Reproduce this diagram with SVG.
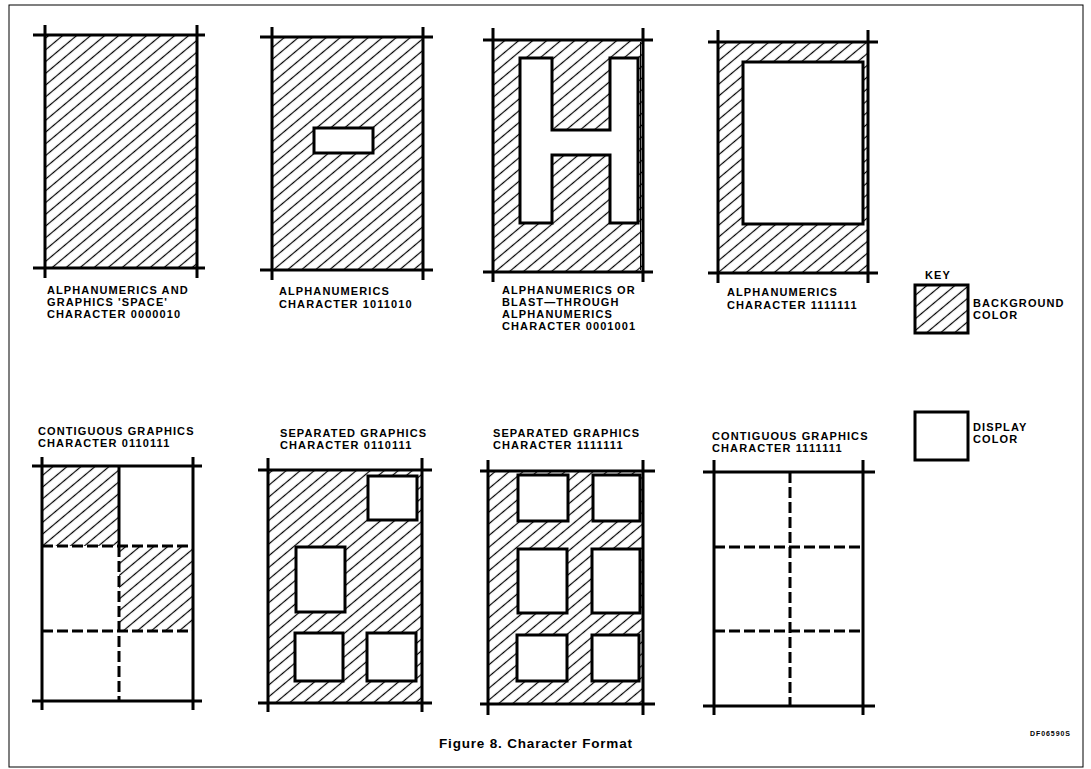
<svg xmlns="http://www.w3.org/2000/svg" width="1091" height="769" viewBox="0 0 1091 769">
<style>
.bg{fill:#fff}
.frame{fill:none;stroke:#000;stroke-width:1}
.ln{stroke:#000;stroke-width:3;fill:none;stroke-linecap:butt}
.dash{stroke:#000;stroke-width:3;fill:none;stroke-dasharray:11 4}
.hatch{fill:url(#hatch)}
.disp{fill:#fff;stroke:#000;stroke-width:3}
.lbl{font-family:"Liberation Sans",Arial,Helvetica,sans-serif;font-weight:bold;font-size:11px;letter-spacing:1.1px;fill:#000}
.cap{font-family:"Liberation Sans",Arial,Helvetica,sans-serif;font-weight:bold;font-size:13.5px;fill:#000}
.tiny{font-family:"Liberation Sans",Arial,Helvetica,sans-serif;font-weight:bold;font-size:7px;fill:#000}
</style>
<defs>
<pattern id="hatch" patternUnits="userSpaceOnUse" width="9" height="9" patternTransform="rotate(-40)">
<line x1="0" y1="4.5" x2="9" y2="4.5" stroke="#000" stroke-width="1.2"/>
</pattern>
</defs>
<rect class="bg" x="0" y="0" width="1091" height="769"/>
<rect class="frame" x="9" y="5" width="1074" height="762"/>

<g id="cell-space">
<rect class="hatch" x="45" y="35" width="152" height="233"/>
<path class="ln" d="M45 25V278M197 25V278M33 35H205M33 268H205"/>
<text class="lbl" x="47" y="294">ALPHANUMERICS AND</text>
<text class="lbl" x="47" y="306">GRAPHICS 'SPACE'</text>
<text class="lbl" x="47" y="318">CHARACTER 0000010</text>
</g>

<g id="cell-1011010">
<rect class="hatch" x="272" y="37" width="151" height="233"/>
<rect class="disp" x="314" y="128" width="59" height="25"/>
<path class="ln" d="M272 27V280M423 27V280M260 37H433M260 270H433"/>
<text class="lbl" x="279" y="295">ALPHANUMERICS</text>
<text class="lbl" x="279" y="308">CHARACTER 1011010</text>
</g>

<g id="cell-0001001">
<rect class="hatch" x="493" y="40" width="150" height="232"/>
<path class="disp" d="M520 58H552V130H610V58H638V223H610V155H552V223H520Z"/>
<line x1="640.5" y1="42" x2="640.5" y2="270" stroke="#000" stroke-width="1"/>
<path class="ln" d="M493 28V282M643 28V282M483 40H653M483 272H653"/>
<text class="lbl" x="502" y="294">ALPHANUMERICS OR</text>
<text class="lbl" x="502" y="306">BLAST—THROUGH</text>
<text class="lbl" x="502" y="318">ALPHANUMERICS</text>
<text class="lbl" x="502" y="330">CHARACTER 0001001</text>
</g>

<g id="cell-1111111-alpha">
<rect class="hatch" x="718" y="42" width="150" height="231"/>
<rect class="disp" x="743" y="62" width="120" height="162"/>
<path class="ln" d="M718 30V283M868 30V283M708 42H878M708 273H878"/>
<text class="lbl" x="727" y="296">ALPHANUMERICS</text>
<text class="lbl" x="727" y="309">CHARACTER 1111111</text>
</g>

<g id="key">
<text class="lbl" x="938" y="279" text-anchor="middle" letter-spacing="1">KEY</text>
<rect class="hatch" x="915" y="285" width="53" height="48"/>
<rect x="915" y="285" width="53" height="48" fill="none" stroke="#000" stroke-width="3"/>
<text class="lbl" x="973" y="307">BACKGROUND</text>
<text class="lbl" x="973" y="319">COLOR</text>
<rect class="disp" x="915" y="412" width="53" height="48"/>
<text class="lbl" x="973" y="431">DISPLAY</text>
<text class="lbl" x="973" y="443">COLOR</text>
</g>

<g id="cell-contig-0110111">
<text class="lbl" x="38" y="435">CONTIGUOUS GRAPHICS</text>
<text class="lbl" x="38" y="447">CHARACTER 0110111</text>
<rect class="hatch" x="42" y="466" width="77" height="80"/>
<rect class="hatch" x="119" y="546" width="74" height="85"/>
<path class="ln" d="M119 466V546"/>
<path class="dash" d="M119 546V701M42 546H193M42 631H193"/>
<path class="ln" d="M42 457V710M193 457V710M32 466H202M32 701H202"/>
</g>

<g id="cell-sep-0110111">
<text class="lbl" x="280" y="437">SEPARATED GRAPHICS</text>
<text class="lbl" x="280" y="449">CHARACTER 0110111</text>
<rect class="hatch" x="268" y="470" width="154" height="233"/>
<rect class="disp" x="368" y="476" width="49" height="44"/>
<rect class="disp" x="296" y="547" width="49" height="65"/>
<rect class="disp" x="295" y="633" width="48" height="48"/>
<rect class="disp" x="367" y="633" width="49" height="48"/>
<path class="ln" d="M268 458V712M422 458V712M258 470H432M258 703H432"/>
</g>

<g id="cell-sep-1111111">
<text class="lbl" x="493" y="437">SEPARATED GRAPHICS</text>
<text class="lbl" x="493" y="449">CHARACTER 1111111</text>
<rect class="hatch" x="488" y="471" width="155" height="233"/>
<rect class="disp" x="518" y="475" width="50" height="46"/>
<rect class="disp" x="593" y="475" width="47" height="46"/>
<rect class="disp" x="518" y="549" width="49" height="64"/>
<rect class="disp" x="592" y="549" width="48" height="64"/>
<rect class="disp" x="517" y="635" width="50" height="46"/>
<rect class="disp" x="592" y="635" width="47" height="46"/>
<path class="ln" d="M488 460V715M643 460V715M480 471H655M480 704H655"/>
</g>

<g id="cell-contig-1111111">
<text class="lbl" x="712" y="440">CONTIGUOUS GRAPHICS</text>
<text class="lbl" x="712" y="452">CHARACTER 1111111</text>
<path class="dash" d="M790 472V706M714 547H863M714 631H863"/>
<path class="ln" d="M714 460V715M863 460V715M703 472H875M703 706H875"/>
</g>

<g id="connectors"></g>

<text class="tiny" x="1030" y="736" textLength="40">DF06590S</text>
<text class="cap" x="439" y="748" textLength="193">Figure 8. Character Format</text>
</svg>
